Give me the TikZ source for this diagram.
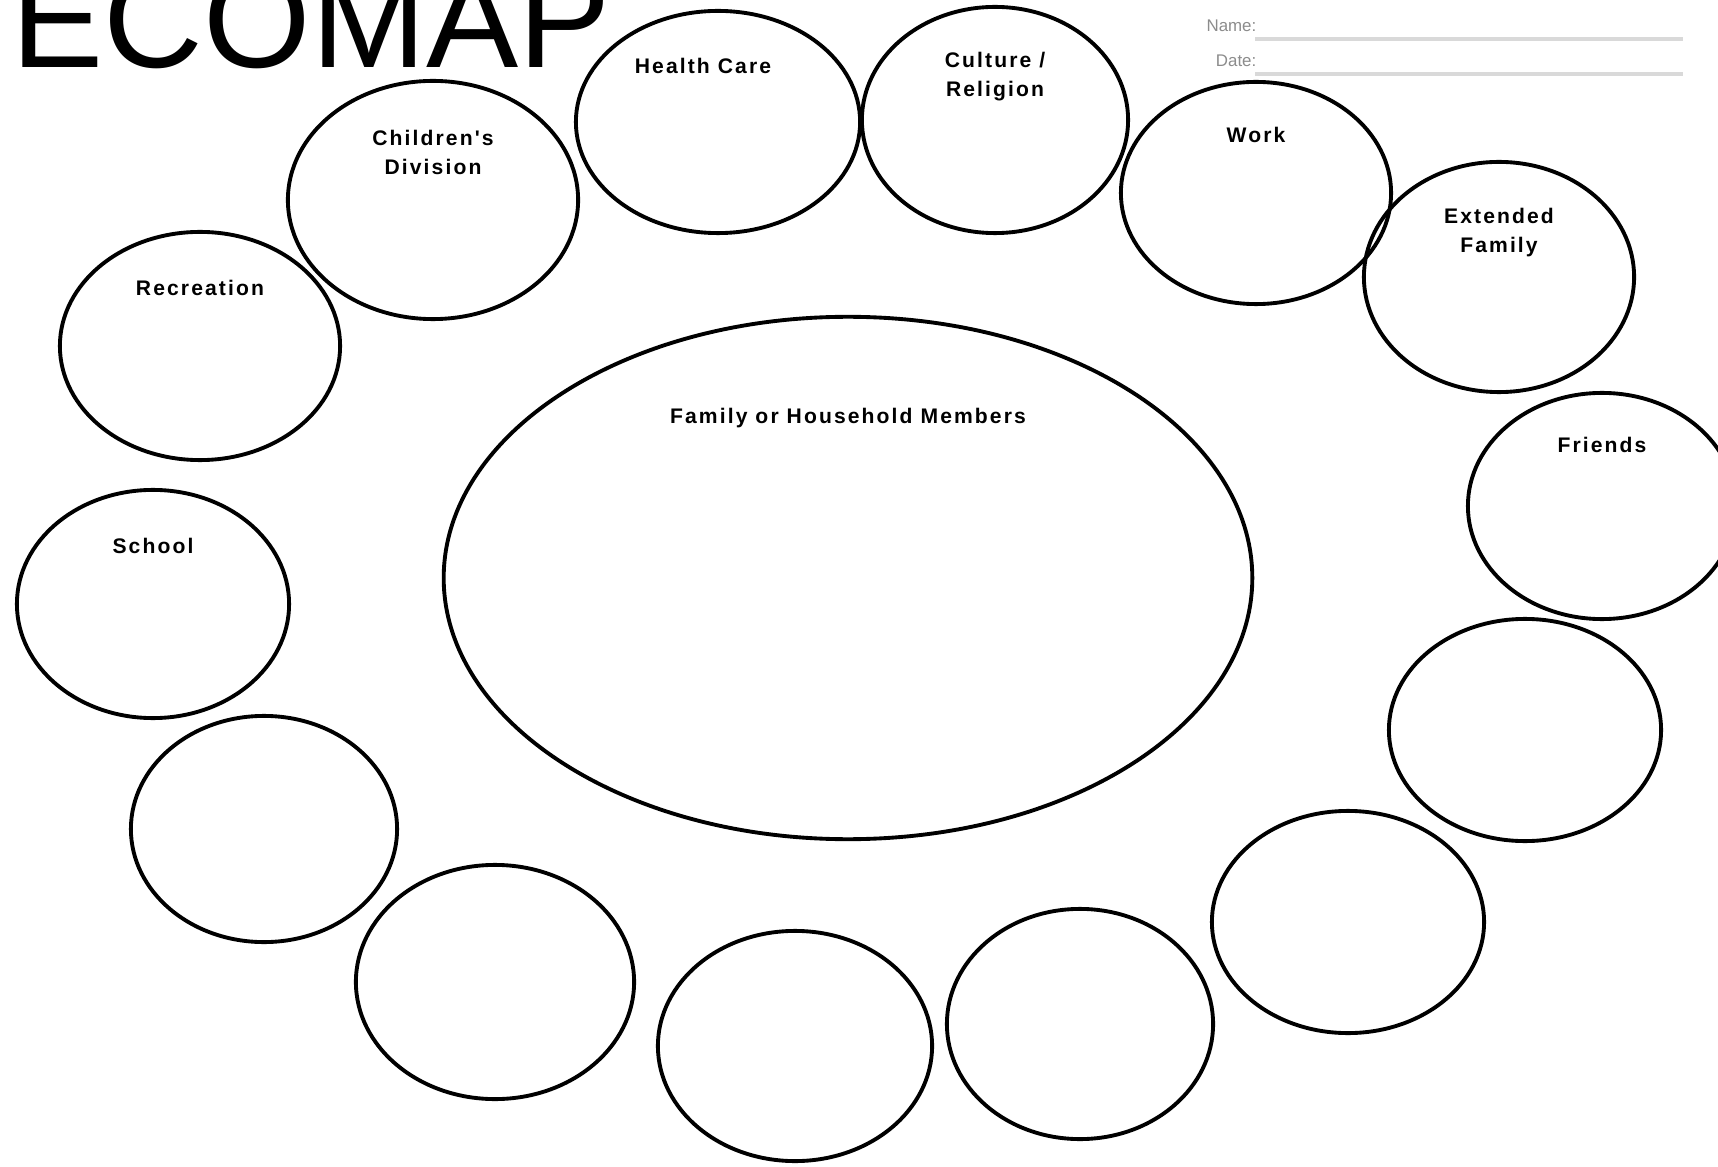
\documentclass[tikz,border=0pt]{standalone}
\usepackage{fontspec}
\newfontfamily\ecofont{Liberation Sans}
\newfontfamily\ringfont[LetterSpace=10]{Liberation Sans}
\usetikzlibrary{shapes.geometric,positioning}

\begin{document}
\begin{tikzpicture}[
	x=0.01cm, y=-0.01cm,
	ring/.style={
		ellipse,
		draw=black,
		line width=1.1pt,
		inner sep=0pt},
	ringtag/.style={
		inner sep=0pt,
		align=center,
		font=\ringfont\bfseries\fontsize{6}{8.3}\selectfont},
	faint/.style={
		text=black!45,
		inner sep=0pt,
		font=\ecofont\fontsize{4.8}{5}\selectfont},
	blank/.style={draw=black!15, line width=1.3pt}
	]
	\useasboundingbox (0,0) rectangle (1718,1167);
	
	\node[anchor=base west, inner sep=0pt, font=\ecofont\fontsize{39.3}{40}\selectfont] (title) at (11,68) {ECOMAP};
	
	\node[faint, anchor=base east] (nm) at (1257,32) {Name:};
	\node[faint, anchor=base east] (dt) at (1257,67) {Date:};
	\draw[blank] (1255,39) -- (1683,39);
	\draw[blank] (1255,74) -- (1683,74);
	
	\foreach \n/\cx/\cy/\rx/\ry in {% name/centre x/centre y/half width/half height
		fam/848/578/404/261,
		hc/718/122/142/111,
		cr/995/120/133/113,
		wk/1256/193/135/111,
		ef/1499/277/135/115,
		fr/1602/506/134/113,
		r1/1525/730/136/111,
		r2/1348/922/136/111,
		b1/1080/1024/133/115,
		b2/795/1046/137/115,
		b3/495/982/139/117,
		l1/264/829/133/113,
		sc/153/604/136/114,
		rc/200/346/140/114,
		cd/433/200/145/119}
	\node[ring, minimum width=\rx*0.02cm, minimum height=\ry*0.02cm] (\n) at (\cx,\cy) {};
	
	\foreach \n/\d/\dx/\txt in {% ring/drop/shift/text
		fam/0.93/0/Family or Household Members,
		hc/0.49/-0.15/Health Care,
		cr/0.465/0/{Culture /\\Religion},
		wk/0.465/0/Work,
		ef/0.475/0/{Extended\\Family},
		fr/0.455/0/Friends,
		sc/0.495/0/School,
		rc/0.495/0/Recreation,
		cd/0.505/0/{Children's\\Division}}
	\node[ringtag, below=\d cm of \n.north, xshift=\dx cm] (\n-tag) {\txt};
	
\end{tikzpicture}
\end{document}
